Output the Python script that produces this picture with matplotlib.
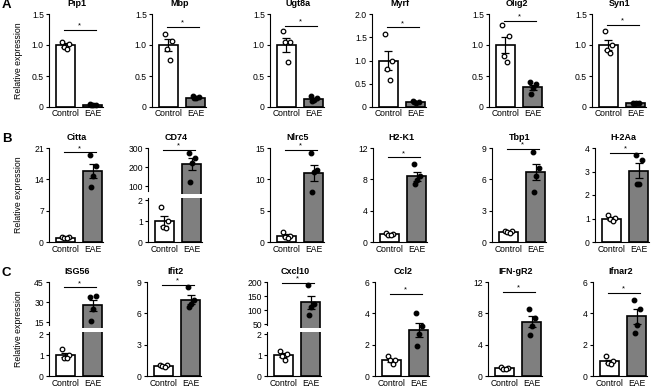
import matplotlib
matplotlib.use("Agg")
import matplotlib.pyplot as plt
import numpy as np

plt.rcParams['font.family'] = ['Liberation Sans', 'DejaVu Sans']

W, H = 669, 388

# ---------------- data ----------------
groups = ['Control', 'EAE']

genes_A = ['Pip1', 'Mbp', 'Ugt8a', 'Myrf', 'Olig2', 'Syn1']
ctrl_pts_A = [[1.05, 1.02, 0.97, 0.93], [1.17, 1.06, 0.93, 0.76], [1.22, 1.05, 1.05, 0.72],
              [1.57, 0.99, 0.81, 0.59], [1.33, 1.14, 0.82, 0.72], [1.22, 1.00, 0.92, 0.87]]
ctrl_mean_A = [1.0, 1.0, 1.0, 1.0, 1.0, 1.0]
ctrl_sem_A = [0.03, 0.09, 0.11, 0.20, 0.13, 0.08]
eae_pts_A = [[0.05, 0.04, 0.04, 0.04], [0.18, 0.16, 0.15, 0.15], [0.18, 0.14, 0.12, 0.10],
             [0.12, 0.10, 0.09, 0.10], [0.40, 0.37, 0.30, 0.21], [0.07, 0.07, 0.06, 0.05]]
eae_mean_A = [0.04, 0.15, 0.13, 0.10, 0.32, 0.06]
eae_sem_A = [0.005, 0.01, 0.02, 0.01, 0.04, 0.005]
ticks_A = [[0, 0.5, 1.0, 1.5], [0, 0.5, 1.0, 1.5], [0, 0.5, 1.0, 1.5],
           [0, 0.5, 1.0, 1.5, 2.0], [0, 0.5, 1.0, 1.5], [0, 0.5, 1.0, 1.5]]
ticklabels_A = [['0', '0.5', '1.0', '1.5']] * 3 + [['0', '0.5', '1.0', '1.5', '2.0']] + [['0', '0.5', '1.0', '1.5']] * 2
sig_A = [1.25, 1.29, 1.31, 1.71, 1.39, 1.32]

genes_B = ['Citta', 'CD74', 'Nlrc5', 'H2-K1', 'Tbp1', 'H-2Aa']
ctrl_pts_B = [[1.2, 1.1, 0.9, 0.8], [1.65, 0.98, 0.72, 0.65], [1.6, 1.0, 0.8, 0.6],
              [1.1, 1.0, 0.95, 0.9], [1.1, 1.05, 1.0, 0.85], [1.17, 1.03, 0.99, 0.88]]
ctrl_mean_B = [1.0, 1.0, 1.0, 1.0, 1.0, 1.0]
ctrl_sem_B = [0.09, 0.22, 0.25, 0.05, 0.06, 0.06]
eae_pts_B = [[19.5, 17.0, 14.8, 12.2], [275, 250, 220, 122], [14.2, 11.5, 11.1, 8.0],
             [9.95, 8.4, 7.9, 7.4], [8.6, 7.1, 6.3, 4.8], [3.7, 3.5, 2.47, 2.47]]
eae_mean_B = [15.9, 216, 11.0, 8.4, 6.7, 3.04]
eae_sem_B = [1.6, 33, 1.3, 0.55, 0.8, 0.33]
ticks_B = [[0, 7, 14, 21], [100, 200, 300], [0, 5, 10, 15], [0, 4, 8, 12], [0, 3, 6, 9], [0, 1, 2, 3, 4]]
sig_B = [20.0, 290, 14.7, 10.8, 8.9, 3.8]

genes_C = ['ISG56', 'Ifit2', 'Cxcl10', 'Ccl2', 'IFN-gR2', 'Ifnar2']
ctrl_pts_C = [[1.3, 1.0, 0.85, 0.85], [1.1, 1.05, 0.95, 0.9], [1.2, 1.05, 0.95, 0.78],
              [1.26, 1.05, 1.0, 0.74], [1.1, 1.05, 0.95, 0.9], [1.25, 0.95, 0.8, 0.75]]
ctrl_mean_C = [1.0, 1.0, 1.0, 1.0, 1.0, 0.94]
ctrl_sem_C = [0.1, 0.05, 0.09, 0.1, 0.05, 0.11]
eae_pts_C = [[34, 34.5, 25, 16], [8.5, 7.3, 6.9, 6.6], [190, 122, 112, 84],
             [4.04, 3.2, 2.7, 1.94], [8.5, 7.4, 6.4, 5.2], [4.82, 4.28, 3.25, 2.72]]
eae_mean_C = [27.4, 7.3, 127, 2.95, 6.9, 3.8]
eae_sem_C = [4.3, 0.45, 22, 0.45, 0.7, 0.5]
ticks_C = [[15, 30, 45], [0, 3, 6, 9], [50, 100, 150, 200], [0, 2, 4, 6], [0, 4, 8, 12], [0, 2, 4, 6]]
sig_C = [41, 8.7, 196, 5.26, 10.7, 5.3]

# broken-axis panels: lower limit of the upper segment
broken = {'CD74': 60, 'ISG56': 10.5, 'Cxcl10': 36}
lower_ticks = [0, 1, 2]

# ---------------- layout (pixels) ----------------
lefts = [[49, 152, 270, 372, 489, 592],
         [49, 148, 270, 373, 492, 595],
         [49, 147, 267, 375, 488, 593]]
tops = [14, 148, 282]
heights = [93, 94, 94]
AW = 54
jit_c = [-0.14, 0.12, -0.04, 0.06]
jit_e = [-0.12, 0.13, 0.0, -0.06]

fig = plt.figure(figsize=(W / 100, H / 100), dpi=100)


def px_axes(l, t, w, h):
    return fig.add_axes([l / W, 1 - (t + h) / H, w / W, h / H])


LW = 0.8
FS = 6.2


def style(ax, show_bottom=True):
    ax.spines['top'].set_visible(False)
    ax.spines['right'].set_visible(False)
    ax.spines['left'].set_linewidth(LW)
    ax.spines['bottom'].set_linewidth(LW)
    if not show_bottom:
        ax.spines['bottom'].set_visible(False)
    ax.set_xlim(-0.6, 1.37)
    ax.tick_params(axis='y', length=2.2, width=LW, labelsize=FS, pad=1.5)
    ax.tick_params(axis='x', length=0, labelsize=FS, pad=1.8)
    ax.patch.set_alpha(0)


def draw(ax, cpts, cm, cs, epts, em, es, show_c=True, show_e=True):
    ax.bar([0, 1], [cm, em], width=0.7, color=['white', '#7f7f7f'],
           edgecolor='black', linewidth=1.2, zorder=2)
    if show_c:
        ax.errorbar([0], [cm], yerr=[cs], fmt='none', ecolor='black', elinewidth=0.9,
                    capsize=2.6, capthick=0.9, zorder=3)
        ax.plot(np.array(jit_c) + 0, cpts, 'o', ms=3.3, mfc='white', mec='black', mew=0.9,
                zorder=4, clip_on=False)
    if show_e:
        ax.errorbar([1], [em], yerr=[es], fmt='none', ecolor='black', elinewidth=0.9,
                    capsize=2.6, capthick=0.9, zorder=3)
        ax.plot(np.array(jit_e) + 1, epts, 'o', ms=3.3, mfc='black', mec='black', mew=0.9,
                zorder=4, clip_on=False)


def sig(ax, y):
    ax.plot([-0.05, 1.1], [y, y], color='black', lw=0.8, clip_on=False, zorder=5)
    ax.annotate('*', xy=(0.52, y), xytext=(0, 0.3), textcoords='offset points',
                ha='center', va='bottom', fontsize=5.5, annotation_clip=False)


rows = [
    (genes_A, ctrl_pts_A, ctrl_mean_A, ctrl_sem_A, eae_pts_A, eae_mean_A, eae_sem_A, ticks_A, sig_A),
    (genes_B, ctrl_pts_B, ctrl_mean_B, ctrl_sem_B, eae_pts_B, eae_mean_B, eae_sem_B, ticks_B, sig_B),
    (genes_C, ctrl_pts_C, ctrl_mean_C, ctrl_sem_C, eae_pts_C, eae_mean_C, eae_sem_C, ticks_C, sig_C),
]

for r, (genes, cp, cmn, csm, ep, emn, esm, tks, sg) in enumerate(rows):
    top = tops[r]
    h = heights[r]
    for i, g in enumerate(genes):
        l = lefts[r][i]
        if g in broken:
            hb = 44
            gap_bottom = top + h - hb
            ht = h - hb - 4
            ax_t = px_axes(l, top, AW, ht)
            ax_b = px_axes(l, gap_bottom, AW, hb)
            # lower segment
            draw(ax_b, cp[i], cmn[i], csm[i], ep[i], emn[i], esm[i], show_c=True, show_e=False)
            style(ax_b)
            ax_b.set_ylim(0, 2.1)
            ax_b.spines['left'].set_bounds(0, 2.1)
            ax_b.set_yticks(lower_ticks)
            ax_b.set_yticklabels([str(t) for t in lower_ticks])
            ax_b.set_xticks([0, 1])
            ax_b.set_xticklabels(groups)
            # upper segment
            draw(ax_t, cp[i], cmn[i], csm[i], ep[i], emn[i], esm[i], show_c=False, show_e=True)
            style(ax_t, show_bottom=False)
            lo = broken[g]
            ax_t.set_ylim(lo, tks[i][-1])
            ax_t.spines['left'].set_bounds(lo + (tks[i][-1] - lo) * 0.06, tks[i][-1])
            ax_t.set_yticks(tks[i])
            ax_t.set_yticklabels([str(t) for t in tks[i]])
            ax_t.set_xticks([])
            sig(ax_t, sg[i])
        else:
            ax = px_axes(l, top, AW, h)
            draw(ax, cp[i], cmn[i], csm[i], ep[i], emn[i], esm[i])
            style(ax)
            ax.set_ylim(0, tks[i][-1])
            ax.set_yticks(tks[i])
            if r == 0:
                ax.set_yticklabels(ticklabels_A[i])
            else:
                ax.set_yticklabels([str(t) for t in tks[i]])
            ax.set_xticks([0, 1])
            ax.set_xticklabels(groups)
            sig(ax, sg[i])
        fig.text((l + AW / 2 + 1) / W, 1 - (top - 10.5) / H, g, ha='center', va='center',
                 fontsize=6.5, fontweight='bold')
    fig.text(19 / W, 1 - (top + h / 2) / H, 'Relative expression', rotation=90,
             ha='center', va='center', fontsize=6.3)
    fig.text(2 / W, 1 - (top - 9) / H, 'ABC'[r], ha='left', va='center',
             fontsize=9.5, fontweight='bold')

fig.savefig('out.png', dpi=100)
